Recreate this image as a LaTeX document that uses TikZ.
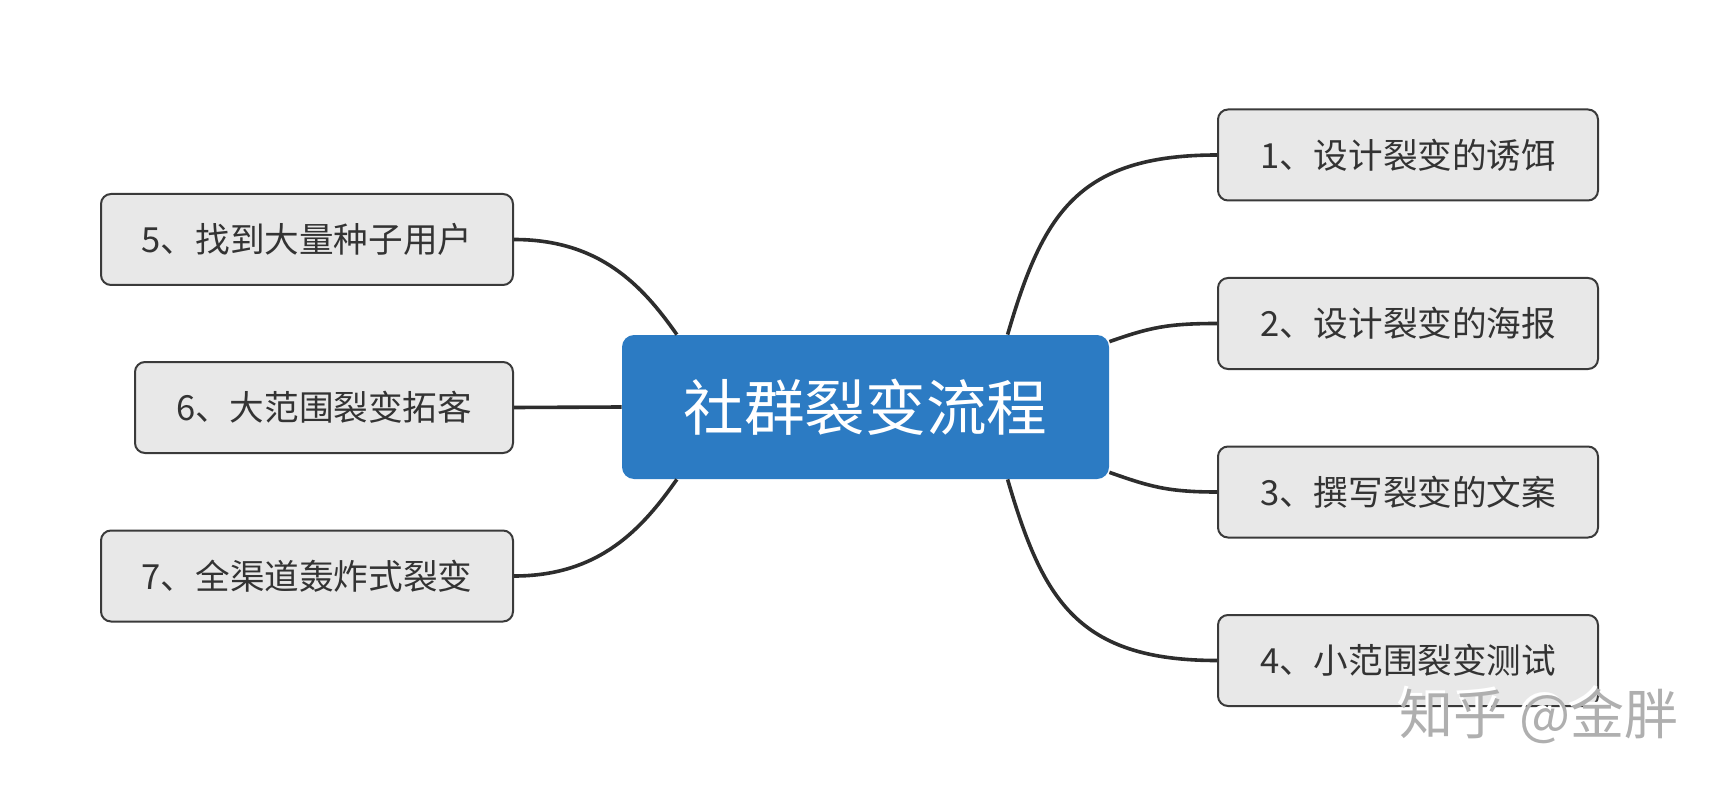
\documentclass[tikz,border=0pt]{standalone}
\usepackage{fontspec}
\usepackage{tikz}
\usetikzlibrary{positioning}
\setmainfont{Noto Sans CJK SC}
\definecolor{bleuCentre}{RGB}{44,123,195}
\definecolor{grisBoite}{RGB}{232,232,232}
\definecolor{grisTrait}{RGB}{58,58,58}
\definecolor{grisTexte}{RGB}{51,51,51}
\definecolor{grisLien}{RGB}{45,45,45}
\definecolor{grisFiligrane}{RGB}{175,175,175}

\begin{document}
\begin{tikzpicture}[x=0.5pt, y=-0.5pt,
  etape/.style={draw=grisTrait, fill=grisBoite, line width=1pt, rounded corners=5pt,
                minimum height=45.5pt, inner sep=0pt, text=grisTexte,
                font=\fontsize{17.3pt}{20pt}\selectfont},
  lien/.style={grisLien, line width=1.8pt},
  filigraneTexte/.style={font=\fontsize{27pt}{30pt}\selectfont}]

\useasboundingbox (0,0) rectangle (1718,786);

% noeud central
\node[fill=bleuCentre, rounded corners=6pt, minimum width=243.5pt, minimum height=72pt,
      inner sep=0pt, text=white, font=\fontsize{30.3pt}{35pt}\selectfont] (racine) at (865.5,407) {社群裂变流程};

% branches droite
\node[etape, minimum width=190pt] (e1) at (1408,155) {1、设计裂变的诱饵};
\node[etape, minimum width=190pt] (e2) at (1408,323.5) {2、设计裂变的海报};
\node[etape, minimum width=190pt] (e3) at (1408,492) {3、撰写裂变的文案};
\node[etape, minimum width=190pt] (e4) at (1408,660.5) {4、小范围裂变测试};

% branches gauche
\node[etape, minimum width=206pt] (e5) at (307,239.5) {5、找到大量种子用户};
\node[etape, minimum width=189pt] (e6) at (324,407.5) {6、大范围裂变拓客};
\node[etape, minimum width=206pt] (e7) at (307,576) {7、全渠道轰炸式裂变};

% liens
\draw[lien] (racine.27) .. controls +(35,-120) and +(-140,0) .. (e1.west);
\draw[lien] (racine.15) .. controls +(40,-14) and +(-50,0) .. (e2.west);
\draw[lien] (racine.-15) .. controls +(40,14) and +(-50,0) .. (e3.west);
\draw[lien] (racine.-27) .. controls +(35,120) and +(-140,0) .. (e4.west);
\draw[lien] (racine.159) .. controls +(-35,-50) and +(85,0) .. (e5.east);
\draw[lien] (racine.west) -- (e6.east);
\draw[lien] (racine.-159) .. controls +(-35,50) and +(85,0) .. (e7.east);

% filigrane
\node[filigraneTexte, text=white] (filigraneOmbre) at (1536,713) {知乎 @金胖};
\node[filigraneTexte, text=grisFiligrane] (filigrane) at (1539,716) {知乎 @金胖};

\end{tikzpicture}
\end{document}
